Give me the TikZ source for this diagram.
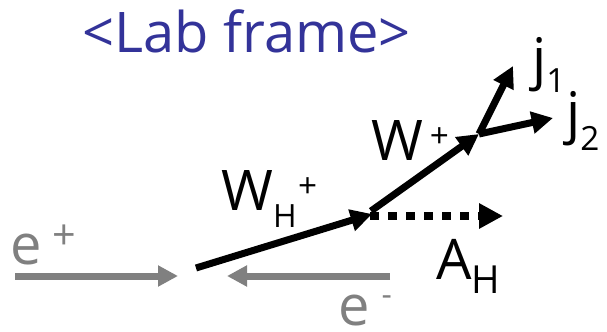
\documentclass[tikz,border=0pt]{standalone}
\usepackage{fontspec}
\setmainfont{Open Sans}
\usetikzlibrary{arrows.meta}
\definecolor{titleblue}{HTML}{333399}
\definecolor{beamgray}{HTML}{808080}
\begin{document}
\begin{tikzpicture}[x=0.75pt,y=-0.75pt,
  blk/.style={line width=5.25pt, -{Triangle[length=16pt,width=16pt]}},
  dotarrow/.style={line width=6pt, dash pattern=on 6.75pt off 6.75pt, -{Triangle[length=18pt,width=18pt]}},
  gry/.style={line width=5.25pt, draw=beamgray, -{Triangle[length=15pt,width=15pt]}},
  lbl/.style={anchor=base west, inner sep=0pt, font=\fontsize{42}{50}\selectfont}]
\useasboundingbox (0,0) rectangle (607,332);
% endpoints
\coordinate (ep0) at (15,276);  \coordinate (ep1) at (178,276);
\coordinate (em0) at (390,276); \coordinate (em1) at (227,276);
\coordinate (wh0) at (196,268); \coordinate (wh1) at (372,214);
\coordinate (w0) at (371,211);  \coordinate (w1) at (479,134);
\coordinate (a0) at (370,216);  \coordinate (a1) at (503,216);
\coordinate (j1) at (513,66);   \coordinate (j2) at (553,118);
% beams
\draw[gry] (ep0) -- (ep1);
\draw[gry] (em0) -- (em1);
% particles
\draw[blk] (wh0) -- (wh1);
\draw[blk] (w0) -- (w1);
\draw[dotarrow] (a0) -- (a1);
\draw[blk] (w1) -- (j1);
\draw[blk] (w1) -- (j2);
% labels
\node[lbl, text=titleblue] (title) at (82,52) {<Lab frame>};
\node[lbl] (whl) at (221,210) {W\raisebox{-12.75pt}{\fontsize{24}{24}\selectfont H}\kern1pt\raisebox{9.5pt}{\fontsize{25}{25}\selectfont +}};
\node[lbl] (wl) at (371,160) {W\kern5pt\raisebox{9.5pt}{\fontsize{25}{25}\selectfont +}};
\node[lbl] (al) at (436,279) {A\raisebox{-10.5pt}{\fontsize{29}{29}\selectfont H}};
\node[lbl] (jl1) at (532,78) {j\raisebox{-10.5pt}{\fontsize{25}{25}\selectfont 1}};
\node[lbl] (jl2) at (566,132) {j\raisebox{-13.5pt}{\fontsize{25}{25}\selectfont 2}};
\node[lbl, text=beamgray] (epl) at (10,264) {e\kern8pt\raisebox{11pt}{\fontsize{31}{31}\selectfont +}};
\node[lbl, text=beamgray] (eml) at (338,325) {e\kern9pt\raisebox{15pt}{\fontsize{24}{24}\selectfont -}};
\end{tikzpicture}
\end{document}
